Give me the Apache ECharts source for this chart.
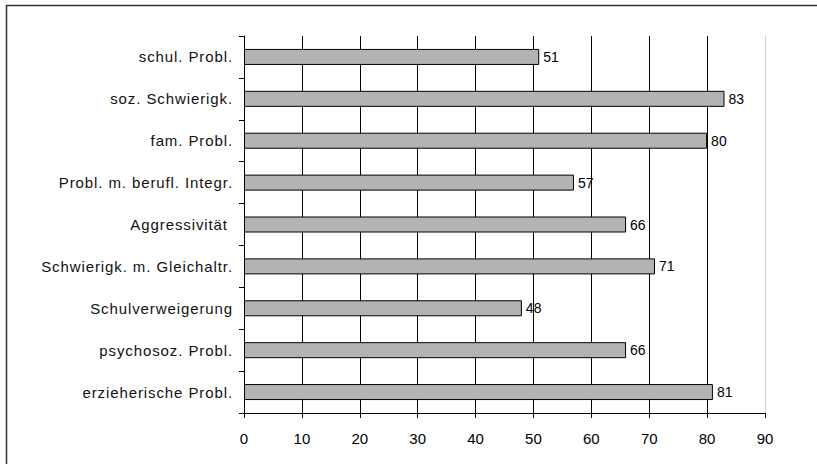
<!DOCTYPE html>
<html>
<head>
<meta charset="utf-8">
<script src="https://cdn.jsdelivr.net/npm/echarts@6/dist/echarts.min.js"></script>
<style>
html,body{margin:0;padding:0;background:#fff;}
#c{width:817px;height:464px;}
#c svg text[text-anchor="end"]{letter-spacing:0.9px;}
</style>
</head>
<body>
<div id="c"></div>
<script>
const categories = ["schul. Probl.", "soz. Schwierigk.", "fam. Probl.", "Probl. m. berufl. Integr.", "Aggressivität ", "Schwierigk. m. Gleichaltr.", "Schulverweigerung", "psychosoz. Probl.", "erzieherische Probl."];
const values = [51, 83, 80, 57, 66, 71, 48, 66, 81];
const xTicks = [0, 10, 20, 30, 40, 50, 60, 70, 80, 90];

const chart = echarts.init(document.getElementById('c'), null, {renderer: 'svg'});
const font = 'Liberation Sans, Arial, Helvetica, sans-serif';
chart.setOption({
  animation: false,
  backgroundColor: '#fff',
  graphic: [{
    type: 'polyline',
    shape: {points: [[6.5, 470], [6.5, 5.5], [830, 5.5]]},
    style: {fill: 'none', stroke: '#333', lineWidth: 1.5},
    silent: true
  }],
  grid: {left: 244, right: 52, top: 36, bottom: 51, containLabel: false},
  xAxis: {
    type: 'value',
    min: xTicks[0],
    max: xTicks[xTicks.length - 1],
    interval: 10,
    axisLine: {show: true, lineStyle: {color: '#000', width: 1}},
    axisTick: {show: true, length: 5, lineStyle: {color: '#000'}},
    axisLabel: {color: '#000', fontSize: 15, fontFamily: font, margin: 18},
    splitLine: {show: true, lineStyle: {color: ['#000','#000','#000','#000','#000','#000','#000','#000','#000','#d0d0d0'], width: 1}}
  },
  yAxis: {
    type: 'category',
    data: categories,
    inverse: true,
    axisLine: {show: true, lineStyle: {color: '#000', width: 1}},
    axisTick: {show: true, length: 5, lineStyle: {color: '#000'}},
    axisLabel: {color: '#111', fontSize: 15, fontFamily: font, margin: 11},
    splitLine: {show: false}
  },
  series: [{
    type: 'bar',
    data: values,
    barWidth: 16,
    itemStyle: {color: '#b3b3b3', borderColor: '#000', borderWidth: 1},
    label: {show: true, position: 'right', distance: 4, color: '#000', fontSize: 14, fontFamily: font}
  }]
});
</script>
</body>
</html>
